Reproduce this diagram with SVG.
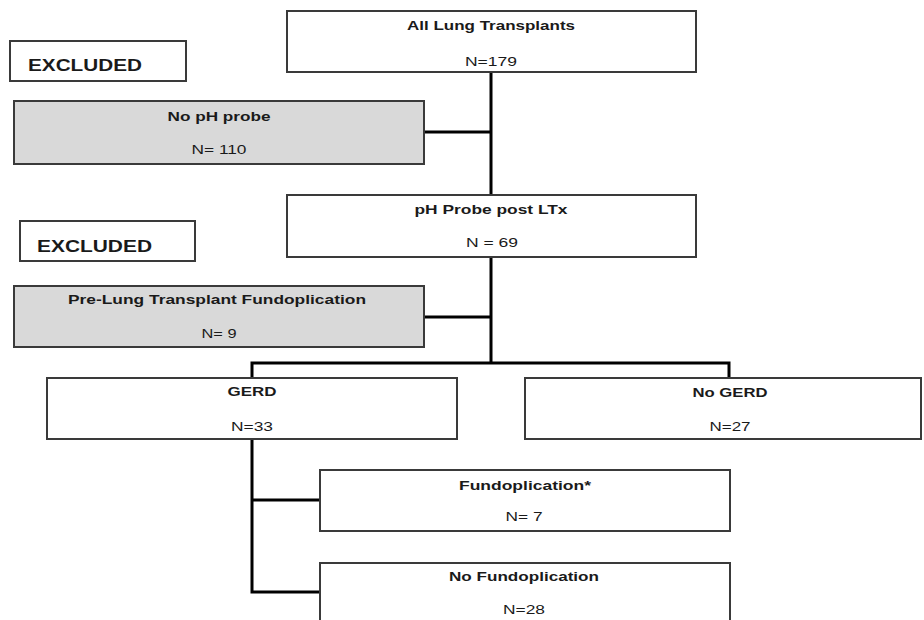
<svg xmlns="http://www.w3.org/2000/svg" width="924" height="620" viewBox="0 0 924 620">
<style>
.box{fill:#ffffff;stroke:#3a3a3a;stroke-width:2}
.gray{fill:#d9d9d9;stroke:#3a3a3a;stroke-width:2}
.t{font-family:"Liberation Sans",Arial,sans-serif;font-size:13px;font-weight:bold;fill:#1a1a1a;text-anchor:middle}
.n{font-family:"Liberation Sans",Arial,sans-serif;font-size:13px;fill:#1a1a1a;text-anchor:middle}
.ex{font-family:"Liberation Sans",Arial,sans-serif;font-size:17px;font-weight:bold;fill:#1a1a1a}
.c{fill:none;stroke:#000;stroke-width:3}
</style>
<rect width="924" height="620" fill="#ffffff"/>
<g id="connectors">
<path class="c" d="M491 72V363"/>
<path class="c" d="M424 132H491"/>
<path class="c" d="M424 317H491"/>
<path class="c" d="M252 378V363H729V378"/>
<path class="c" d="M252 439V592H320"/>
<path class="c" d="M252 500H320"/>
</g>
<g id="all">
<rect class="box" x="287" y="11" width="409" height="61"/>
<text class="t" x="491" y="30" textLength="168" lengthAdjust="spacingAndGlyphs">All Lung Transplants</text>
<text class="n" x="491" y="66" textLength="52" lengthAdjust="spacingAndGlyphs">N=179</text>
</g>
<g id="excluded1">
<rect class="box" x="10" y="41" width="176" height="40"/>
<text class="ex" x="28" y="71" textLength="114" lengthAdjust="spacingAndGlyphs">EXCLUDED</text>
</g>
<g id="noph">
<rect class="gray" x="14" y="101" width="410" height="63"/>
<text class="t" x="219" y="121" textLength="103" lengthAdjust="spacingAndGlyphs">No pH probe</text>
<text class="n" x="219" y="154" textLength="55" lengthAdjust="spacingAndGlyphs">N= 110</text>
</g>
<g id="phprobe">
<rect class="box" x="287" y="195" width="409" height="62"/>
<text class="t" x="491" y="214" textLength="153" lengthAdjust="spacingAndGlyphs">pH Probe post LTx</text>
<text class="n" x="492" y="247" textLength="52" lengthAdjust="spacingAndGlyphs">N = 69</text>
</g>
<g id="excluded2">
<rect class="box" x="20" y="221" width="175" height="40"/>
<text class="ex" x="37" y="252" textLength="115" lengthAdjust="spacingAndGlyphs">EXCLUDED</text>
</g>
<g id="prelung">
<rect class="gray" x="14" y="286" width="410" height="61"/>
<text class="t" x="217" y="304" textLength="298" lengthAdjust="spacingAndGlyphs">Pre-Lung Transplant Fundoplication</text>
<text class="n" x="219" y="338" textLength="35" lengthAdjust="spacingAndGlyphs">N= 9</text>
</g>
<g id="gerd">
<rect class="box" x="47" y="378" width="410" height="61"/>
<text class="t" x="252" y="396" textLength="49" lengthAdjust="spacingAndGlyphs">GERD</text>
<text class="n" x="252" y="431" textLength="42" lengthAdjust="spacingAndGlyphs">N=33</text>
</g>
<g id="nogerd">
<rect class="box" x="525" y="378" width="396" height="61"/>
<text class="t" x="730" y="397" textLength="75" lengthAdjust="spacingAndGlyphs">No GERD</text>
<text class="n" x="730" y="431" textLength="41" lengthAdjust="spacingAndGlyphs">N=27</text>
</g>
<g id="fundo">
<rect class="box" x="320" y="470" width="410" height="61"/>
<text class="t" x="525" y="490" textLength="132" lengthAdjust="spacingAndGlyphs">Fundoplication*</text>
<text class="n" x="524" y="521" textLength="37" lengthAdjust="spacingAndGlyphs">N= 7</text>
</g>
<g id="nofundo">
<rect class="box" x="320" y="563" width="410" height="70"/>
<text class="t" x="524" y="581" textLength="150" lengthAdjust="spacingAndGlyphs">No Fundoplication</text>
<text class="n" x="524" y="614" textLength="42" lengthAdjust="spacingAndGlyphs">N=28</text>
</g>
</svg>
